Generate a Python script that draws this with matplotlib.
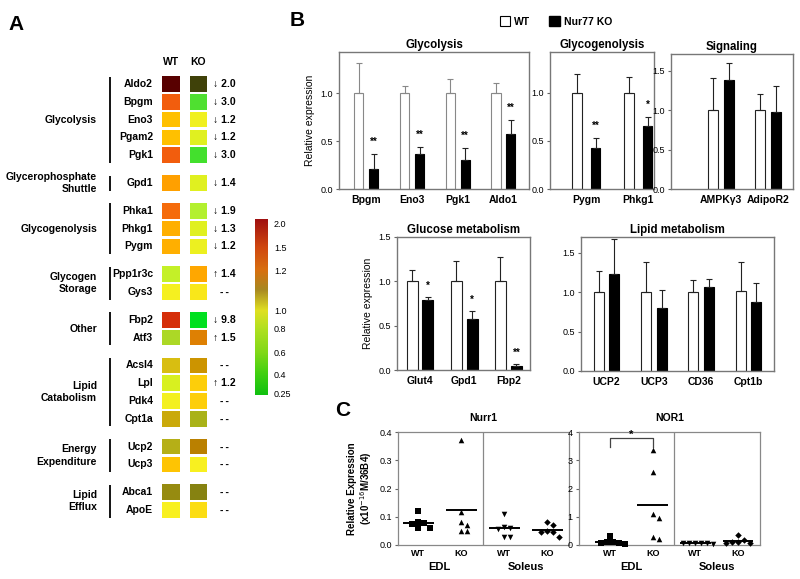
import numpy as np
import matplotlib
matplotlib.use('Agg')
import matplotlib.pyplot as plt
from matplotlib.colors import LinearSegmentedColormap
from matplotlib.patches import Patch
from matplotlib.transforms import blended_transform_factory

plt.rcParams['font.family'] = ['Liberation Sans', 'DejaVu Sans']

W, H = 800, 579

# ---------------- panel A data ----------------
groups = ['Glycolysis', 'Glycerophosphate\nShuttle', 'Glycogenolysis',
          'Glycogen\nStorage', 'Other', 'Lipid\nCatabolism',
          'Energy\nExpenditure', 'Lipid\nEfflux']
group_sizes = [5, 1, 3, 2, 2, 4, 2, 2]
genes = ['Aldo2', 'Bpgm', 'Eno3', 'Pgam2', 'Pgk1', 'Gpd1', 'Phka1', 'Phkg1',
         'Pygm', 'Ppp1r3c', 'Gys3', 'Fbp2', 'Atf3', 'Acsl4', 'Lpl', 'Pdk4',
         'Cpt1a', 'Ucp2', 'Ucp3', 'Abca1', 'ApoE']
wt_level = [2.0, 1.45, 1.1, 1.1, 1.45, 1.2, 1.4, 1.15, 1.15, 0.7, 0.98,
            1.7, 0.68, 1.04, 0.8, 0.97, 1.06, 1.0, 1.09, 1.02, 1.0]
ko_level = [0.9, 0.4, 0.95, 0.85, 0.38, 0.85, 0.62, 0.85, 0.92, 1.18, 1.02,
            0.25, 1.25, 1.12, 1.07, 1.07, 0.88, 1.15, 1.0, 1.0, 1.04]
# signal brightness of each cell (dim cells = low raw signal)
wt_shade = [0.5, 1, 1, 1, 1, 1, 1, 1, 1, 1, 1, 1, 0.9, 0.86, 1, 1, 0.8,
            0.73, 1, 0.6, 1]
ko_shade = [0.27, 1, 1, 1, 1, 1, 1, 1, 1, 1, 1, 1, 0.88, 0.8, 1, 1, 0.74,
            0.73, 1, 0.54, 1]
fold = ['↓ 2.0', '↓ 3.0', '↓ 1.2', '↓ 1.2', '↓ 3.0', '↓ 1.4', '↓ 1.9',
        '↓ 1.3', '↓ 1.2', '↑ 1.4', '--', '↓ 9.8', '↑ 1.5', '--', '↑ 1.2',
        '--', '--', '--', '--', '--', '--']

cbar_ticks = [0.25, 0.4, 0.6, 0.8, 1.0, 1.2, 1.5, 2.0]
cbar_pos = [0.011, 0.119, 0.244, 0.375, 0.48, 0.71, 0.84, 0.977]
node_vals = [0.25, 0.4, 0.6, 0.8, 1.0, 1.1, 1.2, 1.5, 2.0]
node_cols = ['#00e020', '#50e030', '#b0f030', '#d8f020', '#f8f020',
             '#ffc000', '#ffa000', '#f05010', '#b00000']
bar_cols = ['#10c010', '#40d010', '#80d818', '#b0e020', '#e0e020',
            '#a88820', '#d87010', '#d04810', '#a01010']
bar_nodes = [0.0, 0.12, 0.24, 0.375, 0.48, 0.6, 0.71, 0.84, 1.0]

# ---------------- panel B data ----------------
gly_genes = ['Bpgm', 'Eno3', 'Pgk1', 'Aldo1']
gly_wt = [1.0, 1.0, 1.0, 1.0]
gly_wt_err = [0.31, 0.08, 0.15, 0.11]
gly_ko = [0.21, 0.37, 0.30, 0.57]
gly_ko_err = [0.16, 0.07, 0.13, 0.15]
gly_sig = ['**', '**', '**', '**']

gen_genes = ['Pygm', 'Phkg1']
gen_wt = [1.0, 1.0]
gen_wt_err = [0.19, 0.16]
gen_ko = [0.43, 0.65]
gen_ko_err = [0.10, 0.10]
gen_sig = ['**', '*']

sig_genes = ['AMPKγ3', 'AdipoR2']
sig_wt = [1.0, 1.0]
sig_wt_err = [0.40, 0.20]
sig_ko = [1.38, 0.97]
sig_ko_err = [0.21, 0.33]
sig_sig = ['', '']

glu_genes = ['Glut4', 'Gpd1', 'Fbp2']
glu_wt = [1.0, 1.0, 1.0]
glu_wt_err = [0.13, 0.23, 0.27]
glu_ko = [0.79, 0.58, 0.04]
glu_ko_err = [0.03, 0.08, 0.025]
glu_sig = ['*', '*', '**']

lip_genes = ['UCP2', 'UCP3', 'CD36', 'Cpt1b']
lip_wt = [1.0, 1.0, 1.0, 1.01]
lip_wt_err = [0.27, 0.38, 0.16, 0.37]
lip_ko = [1.23, 0.80, 1.06, 0.88]
lip_ko_err = [0.44, 0.23, 0.11, 0.24]
lip_sig = ['', '', '', '']

# ---------------- panel C data ----------------
c_groups = ['WT', 'KO', 'WT', 'KO']
c_tissues = ['EDL', 'Soleus']
nurr1_vals = [[0.12, 0.082, 0.078, 0.074, 0.06, 0.06],
              [0.37, 0.117, 0.08, 0.072, 0.05, 0.05],
              [0.11, 0.065, 0.06, 0.058, 0.03, 0.03],
              [0.08, 0.072, 0.05, 0.046, 0.046, 0.03]]
nor1_vals = [[0.33, 0.12, 0.10, 0.08, 0.06, 0.05],
             [3.38, 2.6, 1.1, 0.97, 0.3, 0.2],
             [0.08, 0.07, 0.07, 0.06, 0.06, 0.05],
             [0.35, 0.18, 0.12, 0.10, 0.08, 0.08]]
nor1_sig = (0, 1, '*')

fig = plt.figure(figsize=(8, 5.79), dpi=100)


def px_axes(l, t, r, b):
    return fig.add_axes([l / W, 1 - b / H, (r - l) / W, (b - t) / H])


# ================= panel A =================
def level_frac(v):
    return np.interp(v, cbar_ticks, cbar_pos)


nodes = [(0.0, node_cols[0])] + [(float(level_frac(v)), c) for v, c in zip(node_vals, node_cols)] + [(1.0, node_cols[-1])]
cmap = LinearSegmentedColormap.from_list('heat', nodes)
cmap_bar = LinearSegmentedColormap.from_list('heatbar', list(zip(bar_nodes, bar_cols)))

ax_a = fig.add_axes([0, 0, 240 / W, 1])
ax_a.set_xlim(0, 240)
ax_a.set_ylim(H, 0)
ax_a.axis('off')

ROW0, PITCH, GAP = 84, 17.8, 10
WT_X, KO_X, CELL_W, CELL_H = 162, 189.5, 17.5, 15.5
row_y = []
for gi, n in enumerate(group_sizes):
    for k in range(n):
        row_y.append(ROW0 + len(row_y) * PITCH + gi * GAP)
row_y = np.array(row_y)

wt_colors = [np.array(cmap(level_frac(v))[:3]) * s for v, s in zip(wt_level, wt_shade)]
ko_colors = [np.array(cmap(level_frac(v))[:3]) * s for v, s in zip(ko_level, ko_shade)]
ax_a.barh(row_y, CELL_W, left=WT_X, height=CELL_H, color=wt_colors)
ax_a.barh(row_y, CELL_W, left=KO_X, height=CELL_H, color=ko_colors)

tf = dict(fontsize=7.5, fontweight='bold')
for y, g, f in zip(row_y, genes, fold):
    ax_a.text(153, y, g, ha='right', va='center', **tf)
    ax_a.text(224.5, y, f.replace('--', '-\u2009-'), ha='center', va='center', **tf)
ax_a.text(WT_X + CELL_W / 2, 62, 'WT', ha='center', va='center', **tf)
ax_a.text(KO_X + CELL_W / 2, 62, 'KO', ha='center', va='center', **tf)

start = 0
for name, n in zip(groups, group_sizes):
    ys = row_y[start:start + n]
    start += n
    ax_a.vlines(110, ys[0] - 7.5, ys[-1] + 7.5, color='black', lw=1.3)
    ax_a.text(97, ys.mean(), name, ha='right', va='center', linespacing=1.3, **tf)

fig.text(8 / W, 1 - 25 / H, 'A', fontsize=15, fontweight='bold', va='center')

# colorbar
ax_cb = px_axes(255, 219, 267, 395)
ax_cb.imshow(np.linspace(0, 1, 256)[:, None], cmap=cmap_bar, aspect='auto',
             origin='lower', extent=[0, 1, 0, 1])
ax_cb.set_xticks([])
ax_cb.yaxis.tick_right()
ax_cb.set_yticks(cbar_pos)
ax_cb.set_yticklabels([f'{v:g}' if v != 1.0 and v != 2.0 else f'{v:.1f}' for v in cbar_ticks])
ax_cb.tick_params(axis='y', length=0, labelsize=6.5, pad=5)
for s in ax_cb.spines.values():
    s.set_visible(False)


# ================= panel B =================
def bar_panel(l, t, r, b, title, names, wt, wt_err, ko, ko_err, sig, ytop,
              yticks, xlim, off, width, edge='#222222', ylabel=False):
    ax = px_axes(l, t, r, b)
    x = np.arange(len(names))
    ax.bar(x - off, wt, width, color='white', edgecolor=edge, lw=0.8, zorder=2)
    ax.bar(x + off, ko, width, color='black', edgecolor='black', lw=0.8, zorder=2)
    z = np.zeros(len(names))
    ax.errorbar(x - off, wt, yerr=[z, wt_err], fmt='none', ecolor=edge,
                elinewidth=0.8, capsize=2, capthick=0.8)
    ax.errorbar(x + off, ko, yerr=[z, ko_err], fmt='none', ecolor='#222222',
                elinewidth=0.8, capsize=2, capthick=0.8)
    for xi, v, e, s in zip(x + off, ko, ko_err, sig):
        if s:
            ax.text(xi, v + e + ytop * 0.05, s, ha='center', va='bottom',
                    fontsize=7, fontweight='bold')
    ax.set_xlim(*xlim)
    ax.set_ylim(0, ytop)
    ax.set_xticks(x)
    ax.set_xticklabels(names, fontsize=7.5, fontweight='bold')
    ax.tick_params(axis='x', length=0, pad=4)
    ax.set_yticks(yticks)
    ax.set_yticklabels([f'{v:.1f}' for v in yticks])
    ax.tick_params(axis='y', length=2.5, labelsize=6.5, pad=2, color='#666666')
    for s in ax.spines.values():
        s.set_color('#777777')
        s.set_linewidth(1.0)
    ax.set_title(title, fontsize=8.3, fontweight='bold', pad=3)
    if ylabel:
        ax.set_ylabel('Relative expression', fontsize=7.5, labelpad=4)
    return ax


yt3 = [0.0, 0.5, 1.0]
yt4 = [0.0, 0.5, 1.0, 1.5]
bar_panel(339, 52, 529, 189, 'Glycolysis', gly_genes, gly_wt, gly_wt_err,
          gly_ko, gly_ko_err, gly_sig, 1.43, yt3, (-0.6, 3.56), 0.164, 0.2,
          edge='#888888', ylabel=True)
bar_panel(550, 52, 654, 189, 'Glycogenolysis', gen_genes, gen_wt, gen_wt_err,
          gen_ko, gen_ko_err, gen_sig, 1.42, yt3, (-0.7, 1.3), 0.175, 0.19)
bar_panel(671, 54, 793, 189, 'Signaling', sig_genes, sig_wt, sig_wt_err,
          sig_ko, sig_ko_err, sig_sig, 1.71, yt4, (-1.05, 1.52), 0.168, 0.21)
bar_panel(397, 237, 530, 370, 'Glucose metabolism', glu_genes, glu_wt,
          glu_wt_err, glu_ko, glu_ko_err, glu_sig, 1.5, yt4, (-0.52, 2.49),
          0.18, 0.25, ylabel=True)
bar_panel(581, 237, 774, 371, 'Lipid metabolism', lip_genes, lip_wt,
          lip_wt_err, lip_ko, lip_ko_err, lip_sig, 1.70, yt4, (-0.54, 3.54),
          0.165, 0.21)

fig.text(290 / W, 1 - 20 / H, 'B', fontsize=15, fontweight='bold', va='center')
fig.legend(handles=[Patch(facecolor='white', edgecolor='black', lw=0.8, label='WT'),
                    Patch(facecolor='black', edgecolor='black', label='Nur77 KO')],
           loc='center', bbox_to_anchor=(556 / W, 1 - 21.5 / H), ncol=2,
           frameon=False, prop=dict(size=7.5, weight='bold'), handlelength=1.0,
           handleheight=1.0, columnspacing=1.8, handletextpad=0.4)


# ================= panel C =================
def swarm(vals, ppu_y, dist=6.0):
    pts = []
    offs = np.zeros(len(vals))
    for i in np.argsort(vals)[::-1]:
        y = vals[i] * ppu_y
        for k in [0, 0.5, -0.5, 1, -1, 1.5, -1.5, 2, -2, 2.5, -2.5, 3, -3]:
            x = k * dist
            if all(np.hypot(x - px, y - py) >= dist for px, py in pts):
                break
        pts.append((x, y))
        offs[i] = x
    return offs


markers = ['s', '^', 'v', 'D']


def dot_panel(l, t, r, b, title, vals_list, ytop, yticks, ylabels, xlim, ylabel=False):
    ax = px_axes(l, t, r, b)
    ppu_x = (r - l) / (xlim[1] - xlim[0])
    ppu_y = (b - t) / ytop
    for i, (vals, m) in enumerate(zip(vals_list, markers)):
        xc = 0.5 + i
        v = np.array(vals)
        offs = swarm(v, ppu_y) / ppu_x
        ax.scatter(xc + offs, v, marker=m, s=16 if m != 'D' else 11,
                   color='black', zorder=3, clip_on=False, linewidths=0)
        ax.hlines(v.mean(), xc - 0.36, xc + 0.36, color='black', lw=1.4, zorder=2)
    ax.axvline(2, color='#888888', lw=0.9)
    ax.set_xlim(*xlim)
    ax.set_ylim(0, ytop)
    ax.set_xticks([0.5, 1.5, 2.5, 3.5])
    ax.set_xticklabels(c_groups, fontsize=6.5, fontweight='bold')
    ax.tick_params(axis='x', length=0, pad=3)
    ax.set_yticks(yticks)
    ax.set_yticklabels(ylabels)
    ax.tick_params(axis='y', length=2.5, labelsize=6.5, pad=2, color='#666666')
    for s in ax.spines.values():
        s.set_color('#888888')
        s.set_linewidth(0.9)
    ax.set_title(title, fontsize=7.5, fontweight='bold', pad=8)
    tr = blended_transform_factory(ax.transData, ax.transAxes)
    for xc, name in zip([1.0, 3.0], c_tissues):
        ax.text(xc, -0.195, name, transform=tr, ha='center', va='center',
                fontsize=8, fontweight='bold')
    if ylabel:
        ax.set_ylabel('Relative Expression\n(x10$^{-16}$M/36B4)', fontsize=7,
                      fontweight='bold', labelpad=4, linespacing=1.1)
    return ax


dot_panel(398, 432, 569, 545, 'Nurr1', nurr1_vals, 0.4,
          [0, 0.1, 0.2, 0.3, 0.4], ['0.0', '0.1', '0.2', '0.3', '0.4'],
          (0.03, 4.0), ylabel=True)
ax_nor = dot_panel(579, 432, 760, 545, 'NOR1', nor1_vals, 4,
                   [0, 1, 2, 3, 4], ['0', '1', '2', '3', '4'], (-0.23, 4.02))
g1, g2, star = nor1_sig
top = max(nor1_vals[g1] + nor1_vals[g2]) + 0.4
ax_nor.plot([g1 + 0.5, g1 + 0.5, g2 + 0.5, g2 + 0.5], [top - 0.3, top, top, top - 0.3],
            color='#444444', lw=0.9, clip_on=False)
ax_nor.text((g1 + g2) / 2 + 0.5, top - 0.05, star, ha='center', va='bottom',
            fontsize=8, fontweight='bold')

fig.text(343 / W, 1 - 410 / H, 'C', fontsize=15, fontweight='bold',
         va='center', ha='center')

fig.savefig('out.png', dpi=100)
